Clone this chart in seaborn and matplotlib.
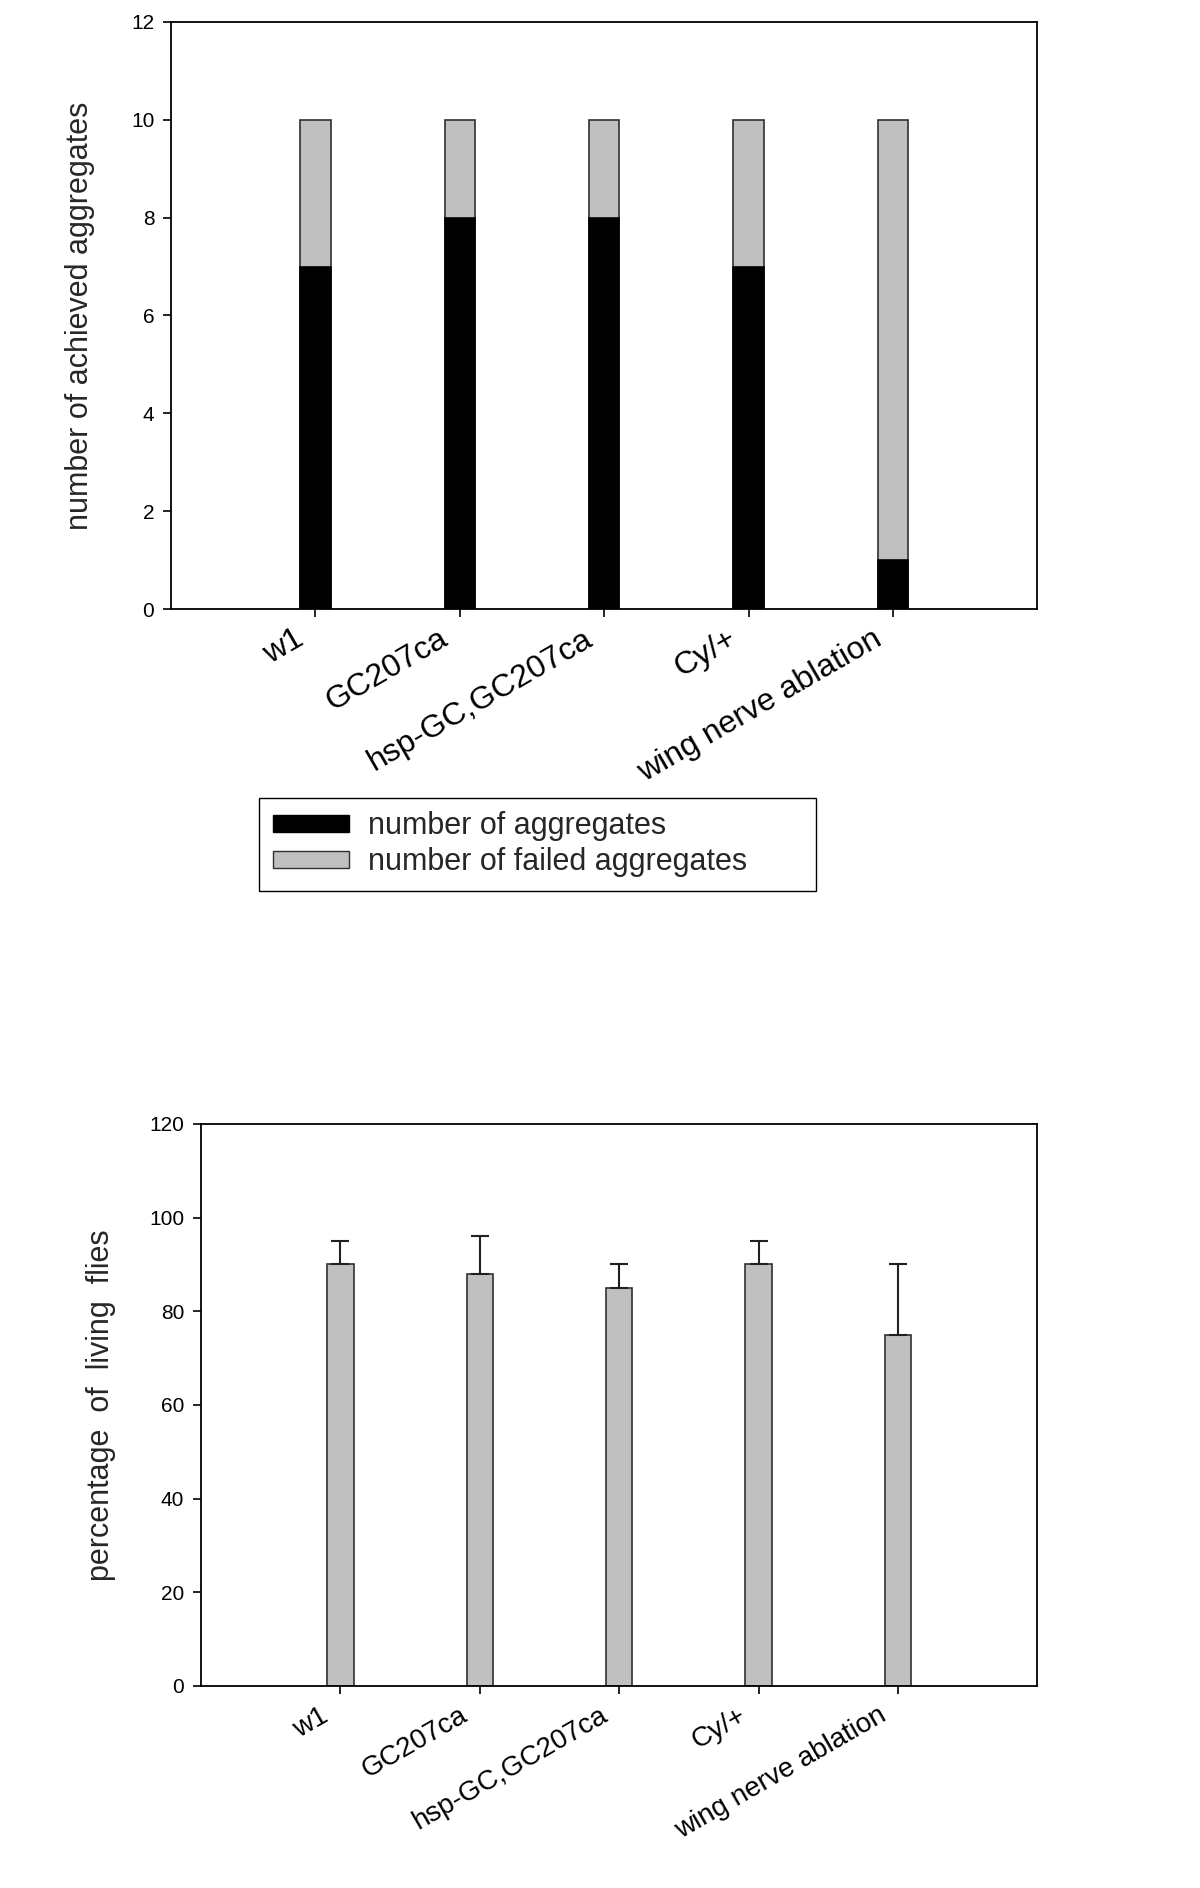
import numpy as np
import seaborn as sns
import matplotlib.pyplot as plt
import matplotlib.transforms as mtransforms
from matplotlib.patches import Patch

# --- DATA ---
genotypes = ["w1", "GC207ca", "hsp-GC,GC207ca", "Cy/+", "wing nerve ablation"]
aggregates_ok = [7, 8, 8, 7, 1]
aggregates_failed = [3, 2, 2, 3, 9]
living_pct = [90, 88, 85, 90, 75]
living_err = [5, 8, 5, 5, 15]

# --- STYLE ---
sns.set_theme(style="ticks")
plt.rcParams["font.family"] = ["Liberation Sans", "DejaVu Sans"]
GREY = "#c0c0c0"
EDGE = "#303030"

fig = plt.figure(figsize=(12, 18.88), dpi=100)
ax1 = fig.add_axes([0.1425, 0.6774, 0.722, 0.311])
ax2 = fig.add_axes([0.1675, 0.107, 0.697, 0.2977])

# top panel: stacked bars (total drawn first, achieved on top)
totals = [a + f for a, f in zip(aggregates_ok, aggregates_failed)]
sns.barplot(x=genotypes, y=totals, color=GREY, saturation=1, width=0.21,
            edgecolor=EDGE, linewidth=1.2, ax=ax1)
sns.barplot(x=genotypes, y=aggregates_ok, color="black", saturation=1, width=0.21,
            edgecolor="black", linewidth=1.2, ax=ax1)
ax1.set_ylim(0, 12)
ax1.set_yticks(range(0, 13, 2))
ax1.set_xlim(-1, 5)
ax1.set_ylabel("number of achieved aggregates", fontsize=22)
ax1.yaxis.set_label_coords(-0.088, 0.5)
ax1.set_xlabel("")
ax1.set_xticks(range(len(genotypes)))
ax1.set_xticklabels(genotypes, rotation=30, ha="right", va="center",
                    rotation_mode="anchor", fontsize=23)

# bottom panel: survival with upper error bars
sns.barplot(x=genotypes, y=living_pct, color=GREY, saturation=1, width=0.19,
            edgecolor=EDGE, linewidth=1.2, errorbar=None, ax=ax2)
ax2.errorbar(range(len(genotypes)), living_pct,
             yerr=[np.zeros(len(living_err)), living_err],
             fmt="none", ecolor="#202020", elinewidth=1.5, capsize=6.8, capthick=1.5)
ax2.set_ylim(0, 120)
ax2.set_yticks(range(0, 121, 20))
ax2.set_xlim(-1, 5)
ax2.set_ylabel("percentage  of  living  flies", fontsize=22)
ax2.yaxis.set_label_coords(-0.102, 0.5)
ax2.set_xlabel("")
ax2.set_xticks(range(len(genotypes)))
ax2.set_xticklabels(genotypes, rotation=30, ha="right", va="center",
                    rotation_mode="anchor", fontsize=20)

# labels sit slightly left of their ticks in the original
shift = mtransforms.ScaledTranslation(-10 / 72, -2 / 72, fig.dpi_scale_trans)
for ax in (ax1, ax2):
    for sp in ax.spines.values():
        sp.set_visible(True)
        sp.set_color("black")
        sp.set_linewidth(1.3)
    ax.tick_params(axis="both", direction="out", length=6, width=1.2,
                   colors="black", labelcolor="black")
    ax.tick_params(axis="y", labelsize=15, pad=6)
    ax.tick_params(axis="x", pad=12)
    for lbl in ax.get_xticklabels():
        lbl.set_transform(lbl.get_transform() + shift)

handles = [Patch(facecolor="black", edgecolor="black"),
           Patch(facecolor=GREY, edgecolor=EDGE)]
leg = fig.legend(handles, ["number of aggregates", "number of failed aggregates"],
                 loc="lower left", bbox_to_anchor=(0.216, 0.528, 0.464, 0.049),
                 mode="expand", fontsize=22, handlelength=2.5, handleheight=0.45,
                 handletextpad=0.6, labelspacing=0.2, borderpad=0.45,
                 borderaxespad=0, fancybox=False, framealpha=1, edgecolor="black")
leg.get_frame().set_linewidth(1.0)

plt.savefig("out.png", dpi=100)
plt.close()
